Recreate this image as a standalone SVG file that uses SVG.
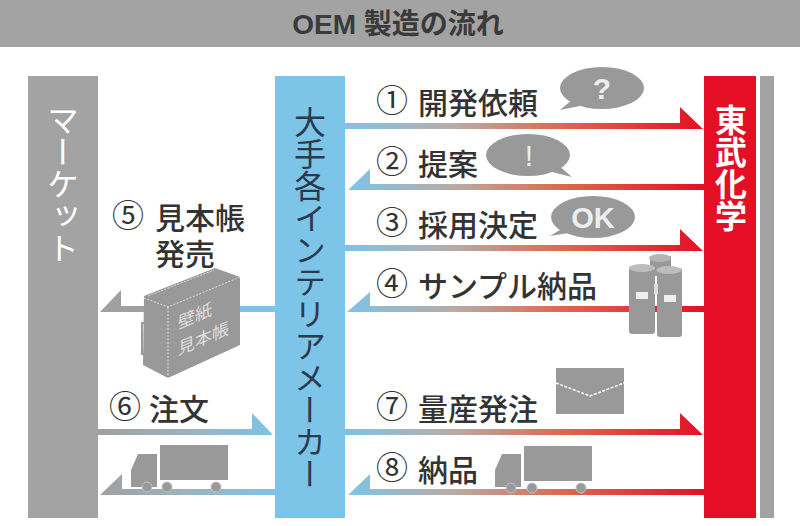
<svg xmlns="http://www.w3.org/2000/svg" width="800" height="526" viewBox="0 0 800 526">
<style>
text{font-family:"Noto Sans CJK JP","Noto Sans",sans-serif}
.lb{font-size:30px;fill:#333;font-weight:500}
.cn{font-size:32px;fill:#333}
.vt{writing-mode:vertical-rl;text-anchor:start}
.ic{fill:#999}
.wh{fill:#999;stroke:#c4c4c4;stroke-width:1}
.ln{stroke:#fff;stroke-width:1.5;fill:none;stroke-dasharray:3 1.5}
.bw{font-family:"Liberation Sans",sans-serif;font-weight:700;fill:#eee}
</style>
<defs>
<linearGradient id="br" gradientUnits="userSpaceOnUse" x1="345" y1="0" x2="704" y2="0"><stop offset="0" stop-color="#7cc4e8"/><stop offset=".3" stop-color="#b8aca6"/><stop offset=".6" stop-color="#dc6a50"/><stop offset="1" stop-color="#e50f25"/></linearGradient>
<linearGradient id="gb" gradientUnits="userSpaceOnUse" x1="98" y1="0" x2="275" y2="0"><stop offset="0" stop-color="#a0a0a0"/><stop offset=".55" stop-color="#9cb4c2"/><stop offset="1" stop-color="#7cc4e8"/></linearGradient>
</defs>
<rect x="0" y="0" width="800" height="526" fill="#fff"/>
<g id="title"><rect x="0" y="0" width="800" height="47" fill="#a3a3a3"/><text x="398" y="34" text-anchor="middle" font-size="28" font-weight="700" fill="#3a3a3a"><tspan font-family="Liberation Sans">OEM </tspan>製造の流れ</text></g>
<g id="connectors">
<path fill="url(#br)" d="M345 123H680V107L703 129H345Z"/>
<path fill="url(#br)" d="M704 184H370V169L348 190H704Z"/>
<path fill="url(#br)" d="M345 245H680V229L703 251H345Z"/>
<path fill="url(#br)" d="M704 306H370V292L347 312H704Z"/>
<path fill="url(#br)" d="M345 429H680V413L703 435H345Z"/>
<path fill="url(#br)" d="M704 489H370V474L348 495H704Z"/>
<path fill="#a0a0a0" d="M145 306H121V290L100 312H145Z"/>
<rect x="238" y="306" width="37" height="6" fill="#7cc4e8"/>
<path fill="url(#gb)" d="M98 429H252V413L273 435H98Z"/>
<path fill="url(#gb)" d="M275 489H122V474L100 495H275Z"/>
</g>
<g id="market"><rect x="28" y="76" width="70" height="442" fill="#a3a3a3"/><text class="vt" x="63" y="104" font-size="32" fill="#fff">マーケット</text></g>
<g id="maker"><rect x="275" y="76" width="70" height="442" fill="#7cc4e8"/><text class="vt" x="310" y="106" font-size="32" fill="#2b3a4c">大手各インテリアメーカー</text></g>
<g id="tobu"><rect x="704" y="76" width="52" height="442" fill="#e50f25"/><text class="vt" x="731" y="104" font-size="32" font-weight="700" fill="#fff">東武化学</text></g>
<g id="strip"><rect x="760" y="76" width="14" height="442" fill="#a3a3a3"/></g>
<g id="step1"><text class="cn" x="376" y="112">①</text><text class="lb" x="418" y="114">開発依頼</text></g>
<g id="step2"><text class="cn" x="376" y="173">②</text><text class="lb" x="418" y="175">提案</text></g>
<g id="step3"><text class="cn" x="376" y="234">③</text><text class="lb" x="418" y="236">採用決定</text></g>
<g id="step4"><text class="cn" x="376" y="295">④</text><text class="lb" x="418" y="297">サンプル納品</text></g>
<g id="step5"><text class="cn" x="112" y="227">⑤</text><text class="lb"><tspan x="155" y="229">見本帳</tspan><tspan x="155" y="265">発売</tspan></text></g>
<g id="step6"><text class="cn" x="109" y="418">⑥</text><text class="lb" x="149" y="420">注文</text></g>
<g id="step7"><text class="cn" x="376" y="418">⑦</text><text class="lb" x="418" y="420">量産発注</text></g>
<g id="step8"><text class="cn" x="376" y="479">⑧</text><text class="lb" x="418" y="481">納品</text></g>
<g id="bubble-q"><ellipse class="ic" cx="602" cy="88" rx="42" ry="21"/><path class="ic" d="M572 100L560 110L585 105Z"/><text class="bw" x="602" y="99" text-anchor="middle" font-size="30">?</text></g>
<g id="bubble-ex"><ellipse class="ic" cx="528" cy="155" rx="42" ry="21"/><path class="ic" d="M558 165L572 177L548 171Z"/><text class="bw" x="529" y="166" text-anchor="middle" font-size="30" style="font-weight:400">!</text></g>
<g id="bubble-ok"><ellipse class="ic" cx="593" cy="217" rx="42" ry="21"/><path class="ic" d="M563 228L550 236L575 232Z"/><text class="bw" x="593" y="228" text-anchor="middle" font-size="29">OK</text></g>
<g id="cans">
<rect class="ic" x="650" y="256" width="21" height="20"/><ellipse cx="660" cy="258" rx="11" ry="4" fill="#b5b5b5"/>
<rect class="ic" x="629" y="266" width="26" height="68" rx="3"/><ellipse cx="642" cy="268" rx="13" ry="4" fill="#bdbdbd"/>
<rect class="ic" x="657" y="268" width="25" height="69" rx="3"/><ellipse cx="669" cy="270" rx="12.500" ry="4" fill="#bdbdbd"/>
<rect x="636" y="292" width="12" height="7" fill="#eee"/><rect x="664" y="295" width="12" height="7" fill="#eee"/><rect x="654" y="284" width="4" height="10" fill="#ddd"/>
</g>
<g id="book">
<path class="ic" d="M144 296L215 268L240 277V345L168 378L143 365Z"/>
<path d="M144 298L168 307L240 277M148 296L214 270M168 307V378" stroke="#ddd" stroke-width="1" fill="none" stroke-dasharray="2 1.500"/>
<path d="M146 323H142V354H146" stroke="#999" stroke-width="2" fill="none"/>
<g transform="matrix(1 -.42 0 1 0 0)"><text x="178" y="404" font-size="17" fill="#ddd">壁紙</text><text x="178" y="430" font-size="17" fill="#ddd">見本帳</text></g>
</g>
<g id="envelope"><rect class="ic" x="556" y="368" width="68" height="46"/><path class="ln" d="M556 383L590 396L624 383"/></g>
<g id="truck1">
<rect class="ic" x="160" y="445" width="68" height="35"/><path class="ic" d="M131 487V470L138 454H157V487Z"/>
<circle class="wh" cx="147" cy="487" r="5"/><circle class="wh" cx="167" cy="487" r="5"/><circle class="wh" cx="216" cy="487" r="5"/>
</g>
<g id="truck2">
<rect class="ic" x="524" y="446" width="68" height="35"/><path class="ic" d="M495 487V470L502 454H521V487Z"/>
<circle class="wh" cx="511" cy="488" r="5"/><circle class="wh" cx="532" cy="488" r="5"/><circle class="wh" cx="581" cy="488" r="5"/>
</g>
</svg>
